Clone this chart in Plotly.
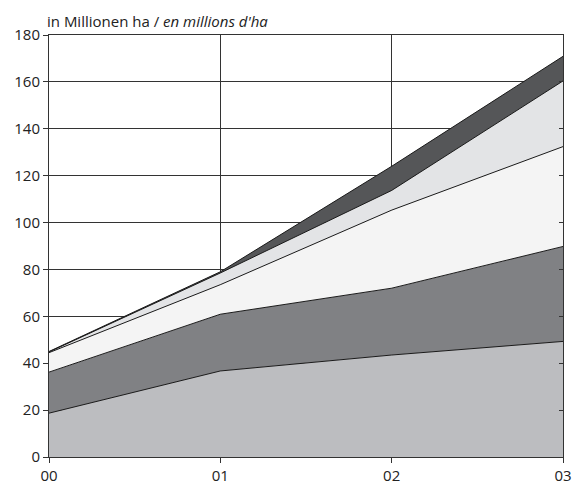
import plotly.graph_objects as go

years = ["00", "01", "02", "03"]
x_pos = [0, 1, 2, 3]
layer1 = [18.7, 36.7, 43.5, 49.3]
layer2 = [17.5, 24.2, 28.5, 40.5]
layer3 = [8.3, 12.6, 33.3, 42.6]
layer4 = [0.3, 5.0, 8.4, 28.0]
layer5 = [0.2, 0.5, 10.3, 10.5]

layers = [layer1, layer2, layer3, layer4, layer5]
colors = ["#bcbdc0", "#808184", "#f4f4f4", "#e3e4e6", "#555658"]

fig = go.Figure()
for i, (vals, col) in enumerate(zip(layers, colors)):
    fig.add_trace(go.Scatter(
        x=x_pos, y=vals, mode="lines", stackgroup="one",
        line=dict(color="#1a1a1a", width=1), fillcolor=col,
        showlegend=False, hoverinfo="skip"))

font = dict(family="Open Sans, Noto Sans, sans-serif", size=15, color="#222222")

fig.update_layout(
    width=575, height=485,
    margin=dict(l=49, r=12, t=35, b=28, autoexpand=False),
    paper_bgcolor="white", plot_bgcolor="white",
    font=font,
    xaxis=dict(range=[0, 3], tickvals=x_pos, ticktext=years,
               showgrid=True, gridcolor="#333333", gridwidth=1,
               showline=True, linecolor="#333333", linewidth=1, mirror=True,
               ticks="outside", ticklen=5, tickcolor="#333333",
               zeroline=False, tickfont=font, automargin=False),
    yaxis=dict(range=[0, 180], tickvals=list(range(0, 181, 20)),
               showgrid=True, gridcolor="#333333", gridwidth=1,
               showline=True, linecolor="#333333", linewidth=1, mirror=True,
               ticks="outside", ticklen=5, tickcolor="#333333",
               zeroline=False, tickfont=font, automargin=False),
    yaxis2=dict(range=[0, 180], tickvals=list(range(0, 181, 20)),
                overlaying="y", side="right", showgrid=False,
                ticks="inside", ticklen=4, tickcolor="#333333",
                showticklabels=False, zeroline=False, automargin=False),
)
fig.add_trace(go.Scatter(x=[None], y=[None], yaxis="y2", showlegend=False,
                         hoverinfo="skip"))

fig.add_annotation(
    xref="paper", yref="paper", x=0, y=1, xshift=-4, yshift=2,
    xanchor="left", yanchor="bottom", showarrow=False,
    text="in Millionen ha / <i>en millions d'ha</i>",
    font=dict(family="Open Sans, Noto Sans, sans-serif", size=15, color="#222222"))

fig.write_html("out.html", config={"displayModeBar": False},
               post_script="document.body.style.margin='0';document.body.style.overflow='hidden';")
